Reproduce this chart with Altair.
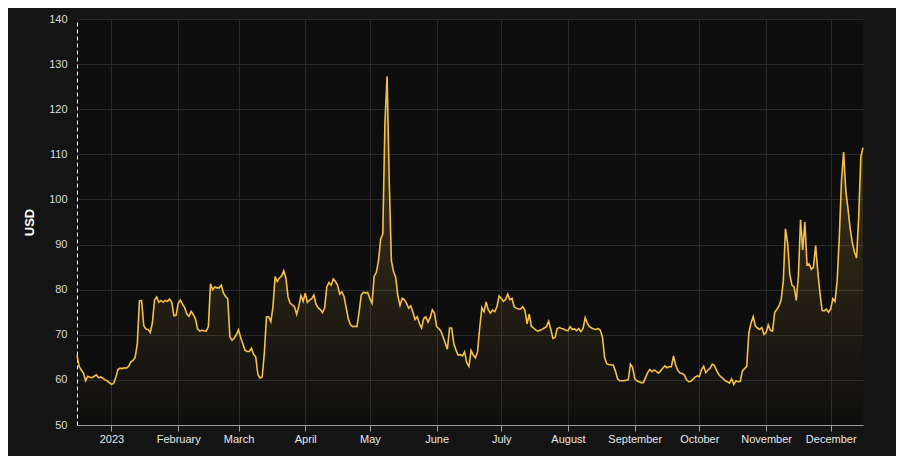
import altair as alt
import pandas as pd

START_DATE = "2022-12-16"

usd_values = [
    65.5, 63, 62.2, 61.5, 59.8, 60.8, 60.6, 60.5, 60.8, 61.1,
    60.5, 60.6, 60.4, 60, 59.8, 59.4, 59, 59.2, 60.5, 62.3,
    62.6, 62.5, 62.7, 62.6, 63, 64, 64.3, 65, 68, 77.5,
    77.6, 72, 71.3, 71.2, 70.5, 72.6, 77.7, 78.4, 77.2, 77.6,
    77.2, 77.6, 77.4, 77.9, 77.2, 74.2, 74.3, 77, 77.7, 76.8,
    76, 74.6, 74.1, 75.2, 74.5, 73.5, 71.3, 70.8, 71, 70.9,
    70.8, 71.8, 81.3, 80, 80.6, 80.4, 80.4, 81, 79.3, 78.5,
    78, 69.5, 68.8, 69.3, 70, 71.1, 69.4, 68, 66.6, 66.3,
    66.3, 67, 65.7, 65.1, 61.2, 60.4, 60.7, 66, 74, 74,
    72.9, 76.2, 82.9, 81.8, 82.6, 83, 84.2, 82.6, 78.4, 77,
    76.6, 76.2, 74.5, 76.4, 78.7, 77.4, 79.2, 77.2, 77.7, 78,
    78.8, 76.8, 76, 75.6, 74.9, 76, 80.6, 81.6, 81, 82.4,
    81.8, 81, 79, 79.5, 78.5, 76, 73.5, 72.2, 71.8, 71.9,
    71.8, 75, 78.8, 79.4, 79.3, 79.4, 78, 77, 83, 83.8,
    86.4, 91.2, 92.4, 117, 127.3, 104, 86.4, 84, 82.7, 78.6,
    76.5, 78.1, 77.8, 77, 75.9, 76.4, 75, 73.4, 74, 72.5,
    71.5, 73.6, 74, 72.8, 73.8, 75.5, 74.8, 71.8, 71.4, 70.8,
    69.5, 68.2, 66.8, 71.5, 71.5, 68, 66.6, 65.5, 65.6, 65.3,
    66.2, 63.8, 63, 66.5, 65.5, 64.9, 66.2, 71.5, 76, 75.1,
    77.3, 75.5, 74.8, 75.5, 75.1, 76.2, 78.6, 78.1, 77.4, 77.8,
    79, 77.8, 78.1, 76.2, 75.9, 75.7, 75.7, 76.2, 75.5, 72.4,
    74.6, 71.9, 71.5, 71.1, 70.8, 71, 71.2, 71.5, 71.8, 73,
    71.3, 69.2, 69.4, 71.4, 71.6, 71.4, 71.3, 71, 70.9, 71.8,
    71.2, 71.3, 70.9, 71.4, 70.7, 71.4, 73.8, 72.5, 71.8, 71.5,
    71.3, 71.2, 71.4, 71, 69.5, 65, 63.6, 63.4, 63.3, 63.3,
    62, 60.3, 59.8, 59.8, 59.8, 59.9, 60, 63.5, 62.8, 60.3,
    59.8, 59.6, 59.4, 59.4, 60.5, 61.6, 62.3, 61.8, 62.2, 61.9,
    61.5, 62, 62.6, 63.1, 62.7, 62.9, 62.9, 65.3, 63.3, 62.1,
    61.5, 61.4, 61.1, 60.1, 59.6, 59.7, 60.1, 60.6, 60.9, 60.7,
    62.3, 63, 61.6, 62.2, 62.6, 63.5, 63.2, 62.1, 61.2, 60.7,
    60.3, 59.8, 59.6, 59.3, 60.2, 59, 59.8, 59.6, 59.7, 62,
    62.5, 63, 70.5, 72.6, 74, 72, 71.5, 71.2, 71.6, 70.1,
    70.5, 72.2, 71, 70.8, 75, 75.6, 76.4, 77.8, 82, 93.5,
    90.3, 83.4, 81, 80.6, 77.6, 83, 95.5, 88.8, 95, 85.5,
    85.7, 84.5, 85, 89.8, 84, 79.3, 75.4, 75.3, 75.7, 75,
    75.7, 78, 77.4, 82, 91.7, 104, 110.5, 102, 98, 93.7,
    90.5, 88.4, 87, 96, 109.5, 111.5,
]

y_ticks = [50, 60, 70, 80, 90, 100, 110, 120, 130, 140]

dates = pd.date_range(START_DATE, periods=len(usd_values), freq="D")
df = pd.DataFrame({"date": dates, "usd": usd_values})

LINE = "#f4c04a"

x_enc = alt.X(
    "date:T",
    scale=alt.Scale(nice=False),
    axis=alt.Axis(
        title=None,
        tickCount={"interval": "month", "step": 1},
        grid=True,
        gridColor="#2a2a2a",
        domainColor="#9a9a9a",
        tickColor="#9a9a9a",
        tickSize=6,
        labelColor="#e8e8e8",
        labelFontSize=11,
        labelPadding=2,
    ),
)
y_enc = alt.Y(
    "usd:Q",
    scale=alt.Scale(domain=[50, 140], nice=False, zero=False),
    axis=alt.Axis(
        title="USD",
        values=y_ticks,
        grid=True,
        gridColor="#2a2a2a",
        domainColor="#ffffff",
        domainDash=[4, 3],
        ticks=False,
        labelColor="#dddddd",
        labelFontSize=11,
        labelPadding=10,
        titleColor="#ffffff",
        titleFontSize=13,
        titleFontWeight="bold",
        titlePadding=12,
    ),
)

base = alt.Chart(df)

area = base.mark_area(
    color=alt.Gradient(
        gradient="linear",
        stops=[
            alt.GradientStop(color="rgba(244,192,74,0.26)", offset=0),
            alt.GradientStop(color="rgba(244,192,74,0.0)", offset=1),
        ],
        x1=0, x2=0, y1=0, y2=1,
    )
).encode(x=x_enc, y=y_enc, y2=alt.datum(50))

line = base.mark_line(color=LINE, strokeWidth=1.6).encode(x=x_enc, y=y_enc)

chart = (
    alt.layer(area, line)
    .properties(
        width=786,
        height=406,
        background="#141414",
        padding={"left": 69, "top": 11, "right": 33, "bottom": 31},
        autosize=alt.AutoSizeParams(type="none"),
    )
    .configure(font="Liberation Sans")
    .configure_view(fill="#0e0e0e", stroke=None)
)

chart.save("out.html", embed_options={"renderer": "svg", "actions": False})
